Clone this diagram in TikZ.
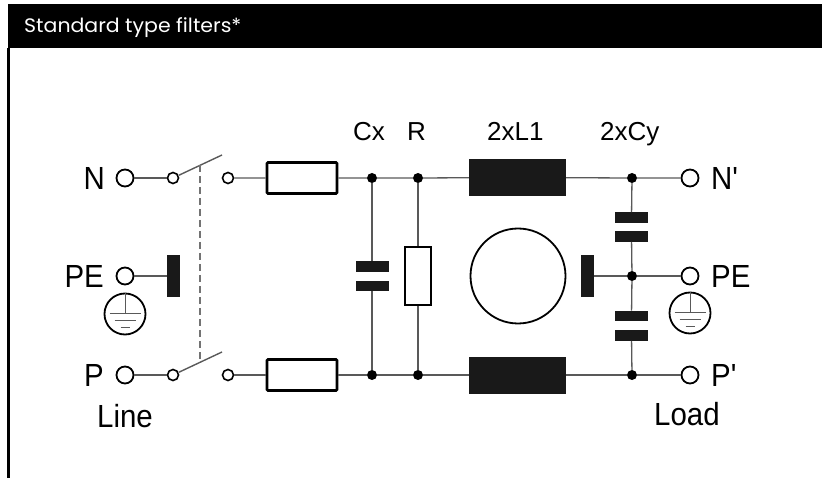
\documentclass[tikz,border=0pt]{standalone}
\usepackage{fontspec}
\setmainfont{Liberation Sans}
\newfontfamily\labelfont[FakeStretch=0.92]{Liberation Sans}
\newfontfamily\headfont[FakeStretch=1.05]{Poppins}
\usetikzlibrary{positioning}

\tikzset{
  wire/.style={draw=black!65, line width=1.3pt},
  thinwire/.style={draw=black!65, line width=1pt},
  term/.style={circle, draw=black, line width=1.8pt, minimum size=17pt, inner sep=0pt},
  contact/.style={circle, draw=black, line width=1.6pt, minimum size=11pt, inner sep=0pt},
  junction/.style={circle, fill=black, minimum size=10pt, inner sep=0pt},
  fuse/.style={rectangle, draw=black, line width=2.6pt, rounded corners=1pt, minimum width=70pt, minimum height=31pt, inner sep=0pt},
  choke/.style={rectangle, fill=black!90, minimum width=97pt, minimum height=37pt, inner sep=0pt},
  plate/.style={rectangle, fill=black!90, minimum width=33pt, minimum height=10.5pt, inner sep=0pt},
  resbox/.style={rectangle, draw=black, line width=1.8pt, minimum width=26pt, minimum height=58pt, inner sep=0pt},
  pebar/.style={rectangle, fill=black!90, minimum width=13pt, minimum height=42pt, inner sep=0pt},
  earthring/.style={circle, draw=black, line width=1.8pt, minimum size=41pt, inner sep=0pt},
  rowlabel/.style={font=\labelfont\fontsize{32}{32}\selectfont, inner sep=0pt},
  toplabel/.style={font=\fontsize{26}{26}\selectfont, inner sep=0pt}
}

\begin{document}
\begin{tikzpicture}[x=1pt, y=-1pt]
 \useasboundingbox (0,0) rectangle (822,478);
 \fill[black] (8,4) rectangle (822,48);
 \node[anchor=base west, text=white, inner sep=0pt, font=\headfont\fontsize{19.5}{19.5}\selectfont] (title) at (24,33) {Standard type filters*};
 \draw[line width=3pt] (8.5,48) -- (8.5,478);

 % line side
 \node[term] (nL) at (125,178) {};
 \node[term] (peL) at (125,276) {};
 \node[term] (pL) at (125,375) {};
 \node[rowlabel, anchor=east] at (105,178) {N};
 \node[rowlabel, anchor=east] at (104,276) {PE};
 \node[rowlabel, anchor=east] at (104,375) {P};
 \node[rowlabel, anchor=base west] at (97,427) {Line};
 \node[pebar] (barL) at (173.5,276) {};

 \node[contact] (swNa) at (173,178) {};
 \node[contact] (swNb) at (228,178) {};
 \node[contact] (swPa) at (173,375) {};
 \node[contact] (swPb) at (228,375) {};
 \coordinate (bladeN) at (222,155);
 \coordinate (bladeP) at (222,352);
 \coordinate (linkN) at (200,165);
 \coordinate (linkP) at (200,360);

 \node[fuse] (fuseN) at (302,178) {};
 \node[fuse] (fuseP) at (302,375) {};

 % Cx and R
 \node[junction] (cxN) at (372,178) {};
 \node[junction] (cxP) at (372,375) {};
 \node[junction] (rN) at (418,178) {};
 \node[junction] (rP) at (418,375) {};
 \node[plate] (cxA) at (372,266.5) {};
 \node[plate] (cxB) at (372,286) {};
 \node[resbox] (res) at (418,276) {};
 \node[toplabel, anchor=base west] at (353,141) {Cx};
 \node[toplabel, anchor=base west] at (407,141) {R};

 % choke
 \node[choke] (lN) at (517.5,177.5) {};
 \node[choke] (lP) at (517.5,375) {};
 \node[circle, draw=black, line width=1.8pt, minimum size=95pt, inner sep=0pt] (core) at (518,276) {};
 \node[toplabel, anchor=base west] at (487,141) {2xL1};

 % Cy
 \node[pebar] (barR) at (587.5,276) {};
 \node[junction] (cyN) at (632,178) {};
 \node[junction] (cyE) at (632,276) {};
 \node[junction] (cyP) at (632,375) {};
 \node[plate] (cyA) at (631.5,217.5) {};
 \node[plate] (cyB) at (631.5,236.5) {};
 \node[plate] (cyC) at (631.5,316) {};
 \node[plate] (cyD) at (631.5,335.5) {};
 \node[toplabel, anchor=base west] at (600,141) {2xCy};

 % load side
 \node[term] (nR) at (690,178) {};
 \node[term] (peR) at (690,276) {};
 \node[term] (pR) at (690,375) {};
 \node[rowlabel, anchor=west] at (711,178) {N'};
 \node[rowlabel, anchor=west] at (711,276) {PE};
 \node[rowlabel, anchor=west] at (711,375) {P'};
 \node[rowlabel, anchor=base west] at (654,425) {Load};

 \foreach \g/\p in {earthL/{(125,314)}, earthR/{(690,313)}} {
  \node[earthring] (\g) at \p {};
  \draw[thinwire] (\g.north) -- (\g.center);
  \draw[thinwire] ([xshift=-15.5pt]\g.center) -- ([xshift=15.5pt]\g.center);
  \draw[thinwire] ([xshift=-10.5pt, yshift=-6.5pt]\g.center) -- ([xshift=10.5pt, yshift=-6.5pt]\g.center);
  \draw[thinwire] ([xshift=-4.5pt, yshift=-14pt]\g.center) -- ([xshift=4.5pt, yshift=-14pt]\g.center);
 }

 \draw[wire] (nL) -- (swNa);
 \draw[wire] (pL) -- (swPa);
 \draw[wire] (peL) -- (barL);
 \draw[wire, line width=1.4pt] (swNa.25) -- (bladeN);
 \draw[wire, line width=1.4pt] (swPa.25) -- (bladeP);
 \draw[wire, dashed, draw=black!55, dash pattern=on 7pt off 4pt] (linkN) -- (linkP);
 \draw[wire] (swNb) -- (fuseN) -- (cxN) -- (rN) -- (lN) -- (cyN) -- (nR);
 \draw[wire] (swPb) -- (fuseP) -- (cxP) -- (rP) -- (lP) -- (cyP) -- (pR);
 \draw[wire] (cxN) -- (cxA);
 \draw[wire] (cxB) -- (cxP);
 \draw[wire] (rN) -- (res) -- (rP);
 \draw[wire] (cyN) -- (cyA);
 \draw[wire] (cyB) -- (cyE) -- (cyC);
 \draw[wire] (cyD) -- (cyP);
 \draw[wire] (barR) -- (cyE) -- (peR);
\end{tikzpicture}
\end{document}
